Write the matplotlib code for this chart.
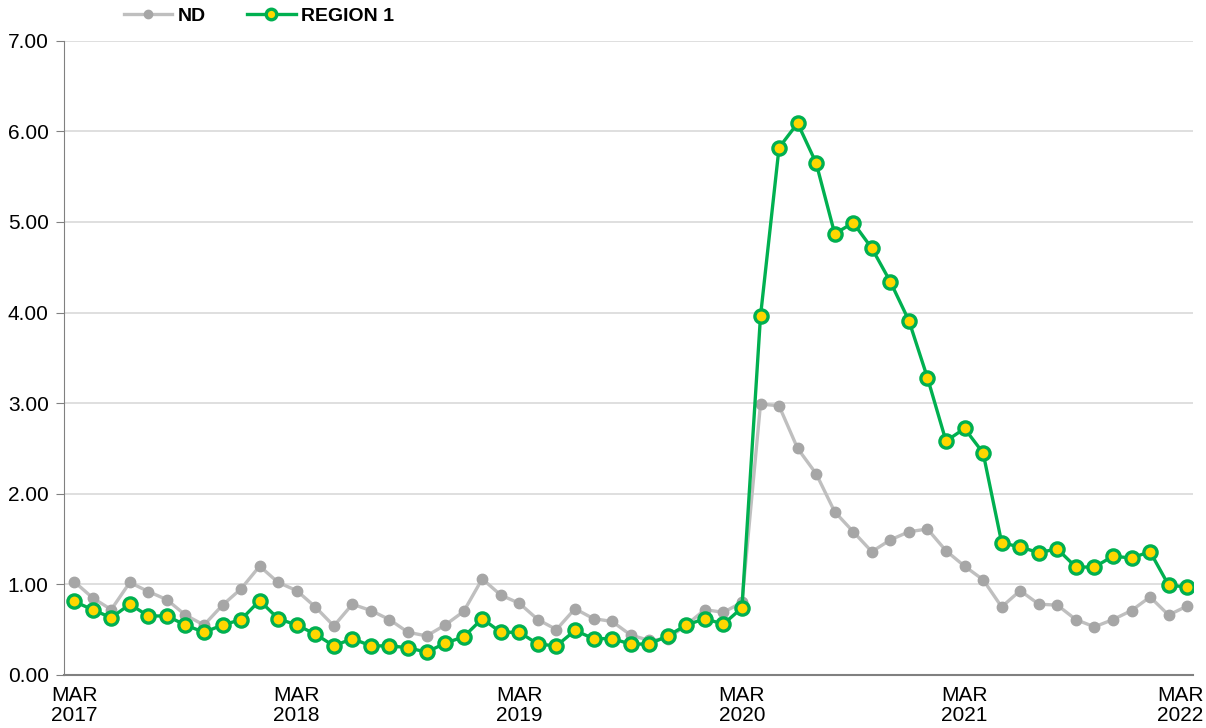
import numpy as np
import matplotlib
matplotlib.use('Agg')
import matplotlib.pyplot as plt
import matplotlib.transforms as mtransforms

plt.rcParams['font.family'] = ['Liberation Sans', 'DejaVu Sans']

# datos mensuales MAR 2017 - MAR 2022
nd = [1.03, 0.85, 0.72, 1.02, 0.92, 0.83, 0.66, 0.55, 0.77, 0.95,
      1.20, 1.02, 0.93, 0.75, 0.54, 0.78, 0.71, 0.61, 0.47, 0.43,
      0.55, 0.70, 1.06, 0.88, 0.79, 0.61, 0.50, 0.73, 0.62, 0.59,
      0.44, 0.38, 0.40, 0.55, 0.72, 0.69, 0.80, 2.99, 2.97, 2.50,
      2.22, 1.80, 1.58, 1.36, 1.49, 1.58, 1.61, 1.37, 1.20, 1.05,
      0.75, 0.93, 0.78, 0.77, 0.61, 0.53, 0.61, 0.71, 0.86, 0.66,
      0.76]
region1 = [0.81, 0.72, 0.63, 0.78, 0.65, 0.65, 0.55, 0.47, 0.55, 0.61,
           0.82, 0.62, 0.55, 0.45, 0.32, 0.40, 0.32, 0.32, 0.30, 0.25,
           0.35, 0.42, 0.62, 0.47, 0.47, 0.34, 0.32, 0.49, 0.40, 0.40,
           0.34, 0.34, 0.43, 0.55, 0.62, 0.56, 0.74, 3.96, 5.82, 6.09,
           5.65, 4.87, 4.99, 4.71, 4.34, 3.91, 3.28, 2.58, 2.72, 2.45,
           1.46, 1.41, 1.35, 1.39, 1.19, 1.19, 1.31, 1.29, 1.36, 0.99,
           0.97]
etiquetas = ['MAR\n2017', 'MAR\n2018', 'MAR\n2019', 'MAR\n2020', 'MAR\n2021', 'MAR\n2022']
yticks = [0, 1, 2, 3, 4, 5, 6, 7]

meses = np.arange(len(nd))

fig = plt.figure(figsize=(12.06, 7.28), dpi=100)
ax = fig.add_axes([0.053, 0.073, 0.936, 0.871])

ax.plot(meses, nd, '-o', color='#BFBFBF', lw=2.4, markersize=7.5,
        markerfacecolor='#A6A6A6', markeredgecolor='#A6A6A6', label='ND', zorder=3)
ax.plot(meses, region1, '-o', color='#00B050', lw=2.4, markersize=9.5,
        markerfacecolor='#FFD700', markeredgecolor='#00B050', markeredgewidth=2.4,
        label='REGION 1', zorder=4)

ax.set_xlim(-0.55, 60.3)
ax.set_ylim(0, 7)
ax.set_yticks(yticks)
ax.set_yticklabels(['%.2f' % v for v in yticks], fontsize=15)
ax.set_xticks(np.arange(0, 61, 12))
ax.set_xticklabels(etiquetas, fontsize=15, linespacing=1.1)
ax.tick_params(axis='x', length=0, pad=8)
ax.tick_params(axis='y', length=6, color='#808080', pad=5)

# la ultima etiqueta un poco a la izquierda para que quepa
ultima = ax.get_xticklabels()[-1]
ultima.set_transform(ultima.get_transform() +
                     mtransforms.ScaledTranslation(-5 / 72, 0, fig.dpi_scale_trans))

ax.grid(axis='y', color='#D9D9D9', lw=1.2)
ax.set_axisbelow(True)
for s in ['top', 'right']:
    ax.spines[s].set_visible(False)
ax.spines['left'].set_color('#808080')
ax.spines['bottom'].set_color('#808080')
ax.spines['bottom'].set_linewidth(1.5)

leg = fig.legend(loc='upper left', bbox_to_anchor=(0.088, 1.014), ncol=2, frameon=False,
                 prop={'weight': 'bold', 'size': 14}, handlelength=2.5, markerscale=0.8,
                 columnspacing=2.1, handletextpad=0.3)

fig.savefig('out.png', dpi=100)
